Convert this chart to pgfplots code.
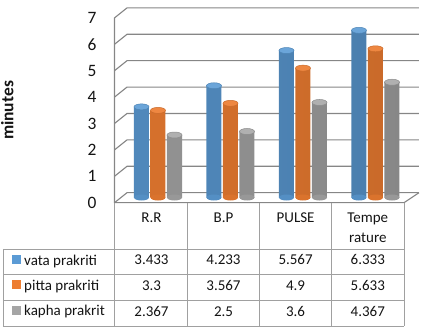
\documentclass[border=0pt]{standalone}
\usepackage{fontspec}
\setmainfont{Carlito}
\usepackage{pgfplots}
\usepackage{pgfplotstable}
\pgfplotsset{compat=1.18}
\definecolor{cblue}{RGB}{91,155,213}
\definecolor{corange}{RGB}{237,125,49}
\definecolor{cgray}{RGB}{165,165,165}
\definecolor{gridc}{RGB}{134,134,134}
\definecolor{tabc}{RGB}{160,160,160}
\definecolor{txt}{RGB}{20,20,20}

\pgfdeclareplotmark{cyltop}{\pgfpathellipse{\pgfpointorigin}{\pgfqpoint{7.5bp}{0bp}}{\pgfqpoint{0bp}{3bp}}\pgfusepathqfillstroke}
\pgfdeclareplotmark{cylbot}{\pgfpathellipse{\pgfpointorigin}{\pgfqpoint{7.5bp}{0bp}}{\pgfqpoint{0bp}{3bp}}\pgfusepathqfill}

\pgfplotstableread{
x vata pitta kapha
0 3.433 3.3 2.367
1 4.233 3.567 2.5
2 5.567 4.9 3.6
3 6.333 5.633 4.367
}\data

\begin{document}
\begin{tikzpicture}
\useasboundingbox (-114.5bp,-132.5bp) rectangle (306.5bp,197.5bp);
% walls and grid (pixel coordinates)
\begin{scope}[shift={(-114.5bp,197.5bp)}, x=1bp, y=-1bp]
  \foreach \v in {0,...,7} {
    \draw[gridc, line width=1.1bp] (114.5,{202.7-26.4*\v}) -- (127,{192.7-26.4*\v}) -- (419,{192.7-26.4*\v});
  }
  \draw[gridc, line width=1.1bp] (114.5,17.7) -- (114.5,202.7) -- (404,202.7) -- (419,192.7);
\end{scope}

\begin{axis}[
  at={(0,0)}, anchor=south west,
  scale only axis, width=304.5bp, height=190.08bp,
  xmin=-0.6, xmax=3.6, ymin=0, ymax=7.2,
  axis line style={draw=none},
  xtick=\empty, ytick={0,...,7},
  major tick length=0pt,
  clip=false,
  /pgf/number format/assume math mode=true,
  yticklabel style={font=\fontsize{17.4bp}{20bp}\selectfont, anchor=center, xshift=-22.5bp, yshift=-5.2bp, text=txt},
]
% bottoms
\addplot[only marks, mark=cylbot, mark options={fill=cblue!92!black}] table[x expr=\thisrow{x}-0.2276, y expr=0]{\data};
\addplot[only marks, mark=cylbot, mark options={fill=corange!92!black}] table[x expr=\thisrow{x}, y expr=0]{\data};
\addplot[only marks, mark=cylbot, mark options={fill=cgray!92!black}] table[x expr=\thisrow{x}+0.2276, y expr=0]{\data};
% bodies
\addplot[ybar, bar width=15bp, bar shift=-16.5bp, draw=none, left color=cblue!88!black, middle color=cblue!88!white, right color=cblue!82!black] table[x=x, y=vata]{\data};
\addplot[ybar, bar width=15bp, bar shift=0bp, draw=none, left color=corange!90!black, middle color=corange!92!white, right color=corange!85!black] table[x=x, y=pitta]{\data};
\addplot[ybar, bar width=15bp, bar shift=16.5bp, draw=none, left color=cgray!88!black, middle color=cgray!85!white, right color=cgray!82!black] table[x=x, y=kapha]{\data};
% tops
\addplot[only marks, mark=cyltop, mark options={fill=cblue!90!white, draw=cblue!85!black, line width=0.5bp}] table[x expr=\thisrow{x}-0.2276, y=vata]{\data};
\addplot[only marks, mark=cyltop, mark options={fill=corange!92!white, draw=corange!85!black, line width=0.5bp}] table[x expr=\thisrow{x}, y=pitta]{\data};
\addplot[only marks, mark=cyltop, mark options={fill=cgray!88!white, draw=cgray!85!black, line width=0.5bp}] table[x expr=\thisrow{x}+0.2276, y=kapha]{\data};
\end{axis}

% data table (pixel coordinates)
\begin{scope}[shift={(-114.5bp,197.5bp)}, x=1bp, y=-1bp, every node/.style={font=\fontsize{15bp}{18bp}\selectfont, text=txt, inner sep=0pt}]
  \draw[tabc, line width=0.8bp] (114.5,202.7) -- (114.5,326);
  \foreach \xx in {187.5,259.5,331.7,404} { \draw[tabc, line width=0.8bp] (\xx,202.7) -- (\xx,326); }
  \foreach \yy in {249,274,300,326} { \draw[tabc, line width=0.8bp] (3,\yy) -- (404,\yy); }
  \draw[tabc, line width=0.8bp] (3,249) -- (3,326);
  % header
  \node[anchor=base] at (151.5,222.8) {R.R};
  \node[anchor=base] at (223.5,222.8) {B.P};
  \node[anchor=base] at (295.6,222.8) {PULSE};
  \node[anchor=base] at (367.8,222.8) {Tempe};
  \node[anchor=base] at (367.8,242.5) {rature};
  % legend keys
  \fill[cblue] (11.7,255) rectangle (20.7,264);
  \fill[corange] (11.7,280.5) rectangle (20.7,289.5);
  \fill[cgray] (11.7,306) rectangle (20.7,315);
  \node[anchor=base west] at (24,265.5) {vata prakriti};
  \node[anchor=base west] at (24,290.7) {pitta prakriti};
  \node[anchor=base west] at (24,316) {kapha prakrit};
  % values
  \node[anchor=base] at (151.5,265) {3.433};
  \node[anchor=base] at (223.5,265) {4.233};
  \node[anchor=base] at (295.6,265) {5.567};
  \node[anchor=base] at (367.8,265) {6.333};
  \node[anchor=base] at (151.5,290.7) {3.3};
  \node[anchor=base] at (223.5,290.7) {3.567};
  \node[anchor=base] at (295.6,290.7) {4.9};
  \node[anchor=base] at (367.8,290.7) {5.633};
  \node[anchor=base] at (151.5,316.5) {2.367};
  \node[anchor=base] at (223.5,316.5) {2.5};
  \node[anchor=base] at (295.6,316.5) {3.6};
  \node[anchor=base] at (367.8,316.5) {4.367};
  % y label
  \node[rotate=90, anchor=base, font=\bfseries\fontsize{17.5bp}{20bp}\selectfont] at (13.3,110.5) {minutes};
\end{scope}
\end{tikzpicture}
\end{document}
